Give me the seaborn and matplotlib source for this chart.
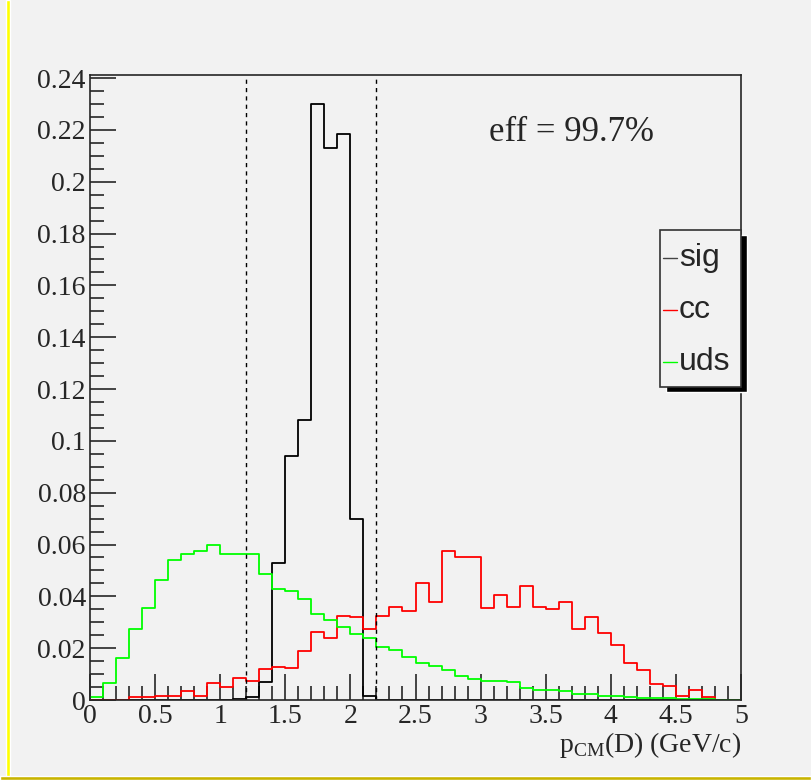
import numpy as np
import pandas as pd
import matplotlib
matplotlib.use("Agg")
import matplotlib.pyplot as plt
import seaborn as sns
from matplotlib.patches import Rectangle
from matplotlib.ticker import MultipleLocator

# bin lower edges, 0.1 GeV/c wide
bin_lo = [round(0.1 * i, 1) for i in range(50)]

sig = [0, 0, 0, 0, 0, 0, 0, 0, 0, 0,
       0, 0.0003, 0.001, 0.0068, 0.0528, 0.094, 0.108, 0.230, 0.213, 0.2185,
       0.0698, 0.0017, 0, 0, 0, 0, 0, 0, 0, 0,
       0, 0, 0, 0, 0, 0, 0, 0, 0, 0,
       0, 0, 0, 0, 0, 0, 0, 0, 0, 0]

cc = [0, 0, 0, 0.001, 0.001, 0.0015, 0.0015, 0.0035, 0.0015, 0.0064,
      0.0051, 0.0086, 0.0075, 0.012, 0.0129, 0.0122, 0.019, 0.0261, 0.0238, 0.0324,
      0.0319, 0.0274, 0.0324, 0.036, 0.0344, 0.0453, 0.0378, 0.0574, 0.0551, 0.0551,
      0.0354, 0.0405, 0.0358, 0.044, 0.0358, 0.0353, 0.0378, 0.0273, 0.0319, 0.026,
      0.0214, 0.0144, 0.0115, 0.0062, 0.0053, 0.0017, 0.0039, 0.0012, 0, 0]

uds = [0.001, 0.0064, 0.0162, 0.0273, 0.0354, 0.0463, 0.054, 0.0562, 0.0574, 0.0598,
       0.0565, 0.0565, 0.0565, 0.0486, 0.0429, 0.042, 0.0389, 0.033, 0.0308, 0.028,
       0.0255, 0.0238, 0.0205, 0.0193, 0.0167, 0.0144, 0.0133, 0.0116, 0.0094, 0.0081,
       0.0075, 0.0075, 0.0068, 0.0045, 0.0039, 0.0039, 0.0033, 0.0023, 0.0023, 0.0017,
       0.0014, 0.0013, 0.0009, 0.0008, 0.0007, 0.0003, 0.0003, 0.0002, 0.0001, 0.0001]

cut_lo, cut_hi = 1.2, 2.2

sns.set_style("ticks")
plt.rcParams['font.family'] = ['Liberation Serif', 'DejaVu Serif']
plt.rcParams['mathtext.fontset'] = 'custom'
plt.rcParams['mathtext.rm'] = 'Liberation Serif'
bg = '#f2f2f2'

fig = plt.figure(figsize=(8.11, 7.80), dpi=100, facecolor=bg)
ax = fig.add_axes([90 / 811, 80 / 780, 651 / 811, 625 / 780], facecolor=bg)

centers = np.array(bin_lo) + 0.05
for vals, col, name in [(sig, 'black', 'sig'), (cc, 'red', 'cc'), (uds, '#00ff00', 'uds')]:
    df = pd.DataFrame({'x': centers, 'w': vals})
    sns.histplot(data=df, x='x', weights='w', binwidth=0.1, binrange=(0, 5), element='step',
                 fill=False, color=col, linewidth=1.3, ax=ax, label=name)

ax.axvline(cut_lo, color='black', linestyle=(0, (3, 3)), linewidth=1)
ax.axvline(cut_hi, color='black', linestyle=(0, (3, 3)), linewidth=1)

ax.set_xlim(0, 5)
ax.set_ylim(0, 0.2412)
ax.set_xlabel('')
ax.set_ylabel('')
ax.xaxis.set_minor_locator(MultipleLocator(0.1))
ax.yaxis.set_minor_locator(MultipleLocator(0.005))
ax.tick_params(which='major', direction='in', length=19, width=1.2, labelsize=20, pad=3)
ax.tick_params(which='minor', direction='in', length=10, width=1.2)
ax.set_yticks(np.arange(0, 0.2401, 0.02))
ax.set_yticklabels(['0'] + ['%g' % v for v in np.round(np.arange(0.02, 0.2401, 0.02), 2)])
ax.set_xticks(np.arange(0, 5.01, 0.5))
ax.set_xticklabels(['%g' % v for v in np.arange(0, 5.01, 0.5)])
for s in ax.spines.values():
    s.set_linewidth(1.2)

ax.text(0.74, 0.895, 'eff = 99.7%', transform=ax.transAxes, fontsize=25, ha='center')
fig.text(741 / 811, 28 / 780, r'p$_{\mathrm{CM}}$(D) (GeV/c)', ha='right', va='baseline', fontsize=20)

# legend box with ROOT-style shadow
lx0, ly0, lx1, ly1 = 660 / 811, (780 - 387) / 780, 741 / 811, (780 - 230) / 780
fig.patches.append(Rectangle((lx0 + 0.008, ly0 - 0.007), lx1 - lx0, ly1 - ly0,
                             transform=fig.transFigure, facecolor='black', zorder=5))
fig.patches.append(Rectangle((lx0, ly0), lx1 - lx0, ly1 - ly0, transform=fig.transFigure,
                             facecolor=bg, edgecolor='#333333', linewidth=1.2, zorder=6))
for i, (name, col) in enumerate([('sig', '#444444'), ('cc', 'red'), ('uds', '#00ff00')]):
    yy = (780 - (258 + 52 * i)) / 780
    fig.lines.append(plt.Line2D([663 / 811, 677 / 811], [yy, yy], color=col, linewidth=1,
                                transform=fig.transFigure, zorder=7))
    fig.text(679 / 811, yy, name, fontsize=23, va='center', family='Liberation Sans', zorder=8)

# ROOT canvas borders
fig.patches.append(Rectangle((0.008, 0), 0.004, 1, transform=fig.transFigure, facecolor='#ffff00', zorder=1))
fig.patches.append(Rectangle((0, 0), 1, 0.005, transform=fig.transFigure, facecolor='#c8b400', zorder=1))

fig.savefig('out.png', dpi=100, facecolor=bg)
